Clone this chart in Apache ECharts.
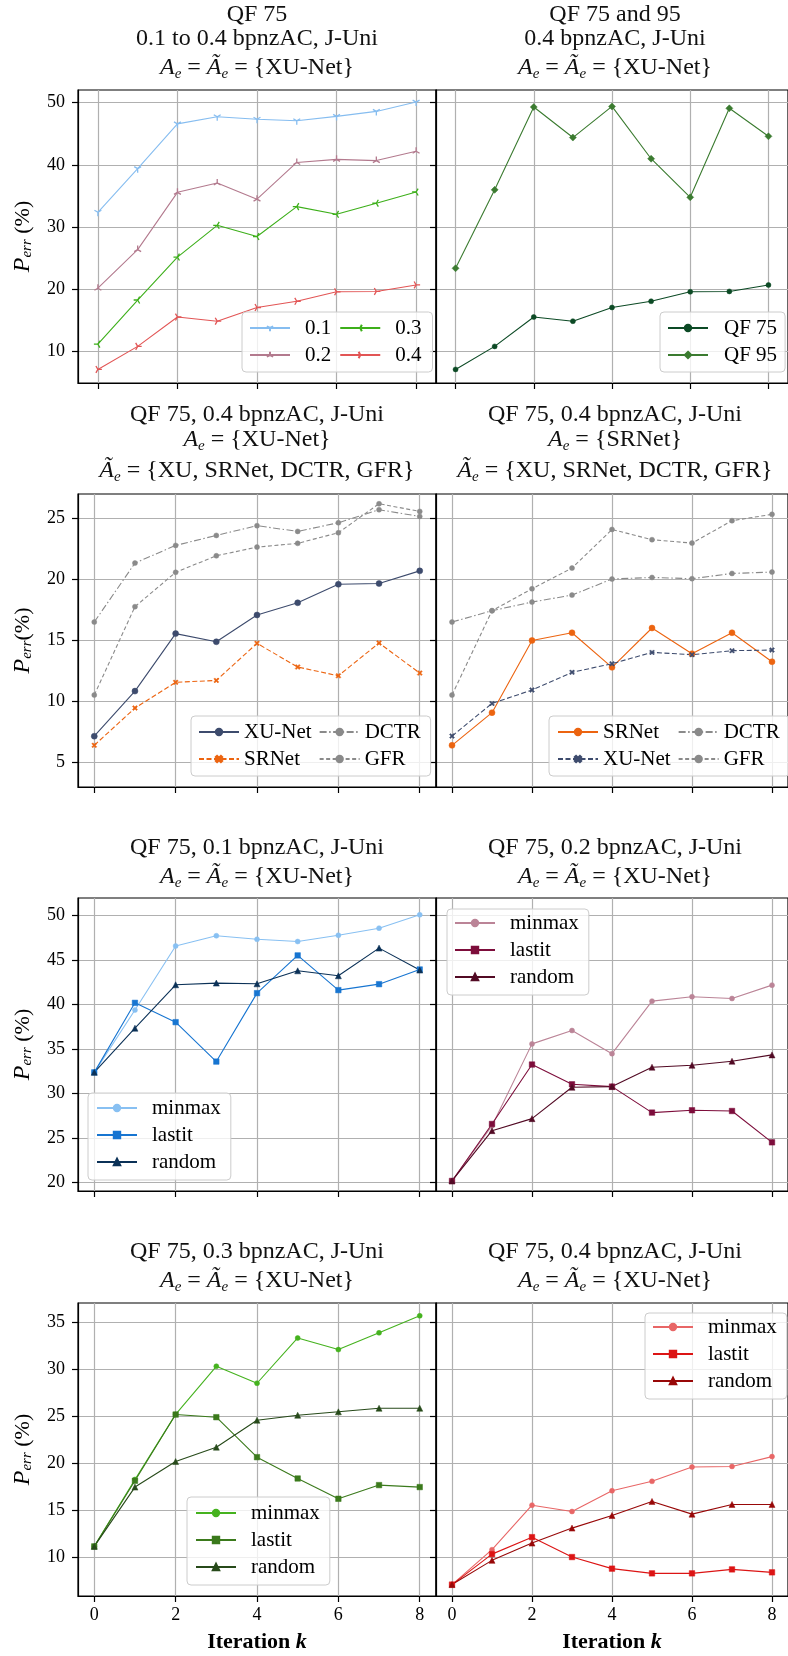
<!DOCTYPE html>
<html><head><meta charset="utf-8">
<script src="https://cdn.jsdelivr.net/npm/echarts@6/dist/echarts.min.js"></script>
<style>html,body{margin:0;padding:0;background:#fff}#c{width:788px;height:1656px}</style>
</head><body><div id="c"></div>
<script>
// ---------------- data ----------------
const ITER = [0, 1, 2, 3, 4, 5, 6, 7, 8];
const X_TICKS = [0, 2, 4, 6, 8];
const Y_TICKS_ROW1 = [10, 20, 30, 40, 50];
const Y_TICKS_ROW2 = [5, 10, 15, 20, 25];
const Y_TICKS_ROW3 = [20, 25, 30, 35, 40, 45, 50];
const Y_TICKS_ROW4 = [10, 15, 20, 25, 30, 35];

// minmax curves for 0.1 ... 0.4 bpnzAC (XU-Net, QF 75)
const BPNZ_01 = [32.4, 39.4, 46.6, 47.75, 47.35, 47.1, 47.8, 48.6, 50.1];
const BPNZ_02 = [20.2, 26.4, 35.6, 37.1, 34.5, 40.4, 40.9, 40.7, 42.2];
const BPNZ_03 = [11.2, 18.3, 25.2, 30.3, 28.5, 33.3, 32.07, 33.85, 35.65];
const BPNZ_04 = [7.15, 10.85, 15.57, 14.9, 17.1, 18.1, 19.62, 19.68, 20.72];
const QF95 = [23.4, 36.0, 49.3, 44.4, 49.4, 41.0, 34.8, 49.1, 44.6];

// A_e = {XU-Net}, several detectors
const SRNET_XU = [6.4, 9.46, 11.57, 11.73, 14.77, 12.83, 12.11, 14.8, 12.33];
const DCTR_XU = [16.52, 21.36, 22.81, 23.63, 24.43, 23.96, 24.67, 25.74, 25.19];
const GFR_XU = [10.53, 17.78, 20.6, 21.96, 22.67, 22.98, 23.85, 26.23, 25.6];
// A_e = {SRNet}
const SRNET_SR = [6.4, 9.08, 15.01, 15.64, 12.8, 16.03, 13.92, 15.64, 13.26];
const XU_SR = [7.16, 9.84, 10.94, 12.39, 13.1, 14.03, 13.84, 14.17, 14.22];
const DCTR_SR = [16.52, 17.45, 18.16, 18.73, 20.05, 20.18, 20.08, 20.51, 20.62];
const GFR_SR = [10.53, 17.45, 19.25, 20.95, 24.12, 23.28, 23.0, 24.84, 25.36];

// lastit / random strategies
const LASTIT_01 = [32.4, 40.21, 38.04, 33.61, 41.3, 45.54, 41.64, 42.31, 43.96];
const RANDOM_01 = [32.4, 37.36, 42.24, 42.43, 42.35, 43.81, 43.25, 46.36, 43.89];
const LASTIT_02 = [20.2, 26.6, 33.28, 31.06, 30.8, 27.88, 28.14, 28.06, 24.54];
const RANDOM_02 = [20.2, 25.85, 27.2, 30.73, 30.8, 32.98, 33.2, 33.65, 34.36];
const LASTIT_03 = [11.2, 18.16, 25.18, 24.9, 20.66, 18.4, 16.25, 17.7, 17.49];
const RANDOM_03 = [11.2, 17.49, 20.2, 21.72, 24.58, 25.11, 25.47, 25.85, 25.85];
const LASTIT_04 = [7.15, 10.38, 12.18, 10.07, 8.84, 8.34, 8.34, 8.76, 8.45];
const RANDOM_04 = [7.15, 9.72, 11.55, 13.14, 14.48, 15.97, 14.62, 15.65, 15.65];

// ---------------- layout / style ----------------
const FONT = "'Liberation Serif', 'DejaVu Serif', serif";
const ROW_TOP = [90, 494, 898, 1303];
const PH = 293;
const COL_LEFT = [78, 436];
const PW = 358;
const X_RANGE = [[-0.5, 8.5], [-0.4, 8.4], [-0.4, 8.4], [-0.4, 8.4]];
const Y_RANGE = [[4.97, 52.04], [2.98, 27.03], [19.07, 51.99], [5.94, 37.01]];
const Y_TICKS = [Y_TICKS_ROW1, Y_TICKS_ROW2, Y_TICKS_ROW3, Y_TICKS_ROW4];

const TRI_DOWN = 'path://M0,-1 M0,0 L0,1 M0,0 L-0.866,-0.5 M0,0 L0.866,-0.5';
const TRI_UP = 'path://M0,1 M0,0 L0,-1 M0,0 L-0.866,0.5 M0,0 L0.866,0.5';
const TRI_LEFT = 'path://M1,0 M0,0 L-1,0 M0,0 L0.5,-0.866 M0,0 L0.5,0.866';
const TRI_RIGHT = 'path://M-1,0 M0,0 L1,0 M0,0 L-0.5,-0.866 M0,0 L-0.5,0.866';
const XMARK = 'path://M-1,-0.6 L-0.6,-1 L0,-0.4 L0.6,-1 L1,-0.6 L0.4,0 L1,0.6 L0.6,1 L0,0.4 L-0.6,1 L-1,0.6 L-0.4,0 Z';

const DASH = [5, 2.5];
const DASH_FINE = [4, 2.5];
const DASHDOT = [7, 2.5, 1.5, 2.5];

const C_GRAY = '#8a8a8a', C_XU = '#3d4b6d', C_SR = '#ec6410';

const SERIES = [
  {p: 0, n: '0.1', d: BPNZ_01, c: '#86bdf0', s: TRI_DOWN, z: 8, line: true},
  {p: 0, n: '0.2', d: BPNZ_02, c: '#b37a8e', s: TRI_UP, z: 8, line: true},
  {p: 0, n: '0.3', d: BPNZ_03, c: '#3daf1a', s: TRI_LEFT, z: 8, line: true},
  {p: 0, n: '0.4', d: BPNZ_04, c: '#e25555', s: TRI_RIGHT, z: 8, line: true},
  {p: 1, n: 'QF 75', d: BPNZ_04, c: '#0c4a25', s: 'circle', z: 5},
  {p: 1, n: 'QF 95', d: QF95, c: '#3b7b30', s: 'diamond', z: 7},
  {p: 2, n: 'XU-Net', d: BPNZ_04, c: C_XU, s: 'circle', z: 6},
  {p: 2, n: 'SRNet', d: SRNET_XU, c: C_SR, s: XMARK, z: 5, t: DASH},
  {p: 2, n: 'DCTR', d: DCTR_XU, c: C_GRAY, s: 'circle', z: 5, t: DASHDOT},
  {p: 2, n: 'GFR', d: GFR_XU, c: C_GRAY, s: 'circle', z: 5, t: DASH_FINE},
  {p: 3, n: 'SRNet', d: SRNET_SR, c: C_SR, s: 'circle', z: 6},
  {p: 3, n: 'XU-Net', d: XU_SR, c: C_XU, s: XMARK, z: 5, t: DASH},
  {p: 3, n: 'DCTR', d: DCTR_SR, c: C_GRAY, s: 'circle', z: 5, t: DASHDOT},
  {p: 3, n: 'GFR', d: GFR_SR, c: C_GRAY, s: 'circle', z: 5, t: DASH_FINE},
  {p: 4, n: 'minmax', d: BPNZ_01, c: '#88c0f2', s: 'circle', z: 5},
  {p: 4, n: 'lastit', d: LASTIT_01, c: '#1775d1', s: 'rect', z: 5.5},
  {p: 4, n: 'random', d: RANDOM_01, c: '#0b3157', s: 'triangle', z: 6},
  {p: 5, n: 'minmax', d: BPNZ_02, c: '#bb8497', s: 'circle', z: 5},
  {p: 5, n: 'lastit', d: LASTIT_02, c: '#7d0d3b', s: 'rect', z: 5.5},
  {p: 5, n: 'random', d: RANDOM_02, c: '#520a24', s: 'triangle', z: 6},
  {p: 6, n: 'minmax', d: BPNZ_03, c: '#45b21e', s: 'circle', z: 5},
  {p: 6, n: 'lastit', d: LASTIT_03, c: '#3b7a1c', s: 'rect', z: 5.5},
  {p: 6, n: 'random', d: RANDOM_03, c: '#274a1a', s: 'triangle', z: 6},
  {p: 7, n: 'minmax', d: BPNZ_04, c: '#e86666', s: 'circle', z: 5},
  {p: 7, n: 'lastit', d: LASTIT_04, c: '#dc1414', s: 'rect', z: 5.5},
  {p: 7, n: 'random', d: RANDOM_04, c: '#980808', s: 'triangle', z: 6}
];

const LEGENDS = [
  {p: 0, items: ['0.1', '0.2', '', '0.3', '0.4'], left: 242, top: 312, pad: [5, 8, 6, 7], tpad: [0, 3, 0, 10]},
  {p: 1, items: ['QF 75', 'QF 95'], left: 660, top: 312, pad: [5, 8, 6, 7], tpad: [0, 0, 0, 11]},
  {p: 2, items: ['XU-Net', 'SRNet', '', 'DCTR', 'GFR'], left: 191, top: 716, pad: [5, 8, 6, 7], tpad: [0, 2, 0, 0]},
  {p: 3, items: ['SRNet', 'XU-Net', '', 'DCTR', 'GFR'], left: 549, top: 716, pad: [5, 8, 6, 8], tpad: [0, 2, 0, 0]},
  {p: 4, items: ['minmax', 'lastit', 'random'], left: 88, top: 1093, pad: [4, 10, 7, 8], tpad: [0, 0, 0, 10]},
  {p: 5, items: ['minmax', 'lastit', 'random'], left: 447, top: 909, pad: [3, 10, 7, 7], tpad: [0, 0, 0, 10]},
  {p: 6, items: ['minmax', 'lastit', 'random'], left: 187, top: 1497, pad: [5, 10, 7, 8], tpad: [0, 0, 0, 10]},
  {p: 7, items: ['minmax', 'lastit', 'random'], left: 645, top: 1313, pad: [3, 10, 7, 7], tpad: [0, 0, 0, 10]}
];

const MATH_AA = '{m|A}{s|e} = {m|Ã}{s|e} = {XU-Net}';
const TITLES = [
  {p: 0, text: 'QF 75\n0.1 to 0.4 bpnzAC, J-Uni\n' + MATH_AA, top: 3},
  {p: 1, text: 'QF 75 and 95\n0.4 bpnzAC, J-Uni\n' + MATH_AA, top: 3},
  {p: 2, text: 'QF 75, 0.4 bpnzAC, J-Uni\n{ma|A}{s|e} = {XU-Net}\n{mb|Ã}{s|e} = {XU, SRNet, DCTR, GFR}', top: 403},
  {p: 3, text: 'QF 75, 0.4 bpnzAC, J-Uni\n{ma|A}{s|e} = {SRNet}\n{mb|Ã}{s|e} = {XU, SRNet, DCTR, GFR}', top: 403},
  {p: 4, text: 'QF 75, 0.1 bpnzAC, J-Uni\n' + MATH_AA, top: 836},
  {p: 5, text: 'QF 75, 0.2 bpnzAC, J-Uni\n' + MATH_AA, top: 836},
  {p: 6, text: 'QF 75, 0.3 bpnzAC, J-Uni\n' + MATH_AA, top: 1240},
  {p: 7, text: 'QF 75, 0.4 bpnzAC, J-Uni\n' + MATH_AA, top: 1240}
];

// ---------------- build ----------------
const grids = [], xAxes = [], yAxes = [], series = [], legends = [], titles = [];
const TICK_STYLE = {color: '#000', width: 1.2};
const GRID_LINE = {color: '#b0b0b0', width: 1.2};

for (let p = 0; p < 8; p++) {
  const row = Math.floor(p / 2), col = p % 2;
  grids.push({left: COL_LEFT[col], top: ROW_TOP[row], width: PW, height: PH, show: true,
    borderColor: '#000', borderWidth: 1.2, backgroundColor: 'transparent'});
  xAxes.push({
    gridIndex: p, type: 'value', min: X_RANGE[row][0], max: X_RANGE[row][1],
    axisLine: {show: true, onZero: false, lineStyle: TICK_STYLE},
    axisTick: {show: true, customValues: X_TICKS, length: 6, lineStyle: TICK_STYLE},
    axisLabel: {show: row === 3, customValues: X_TICKS, fontFamily: FONT, fontSize: 18, color: '#000', margin: 10},
    splitLine: {show: true, lineStyle: GRID_LINE},
    name: row === 3 ? '{b|Iteration} {k|k}' : '', nameLocation: 'middle', nameGap: 35,
    nameTextStyle: {fontFamily: FONT, fontSize: 22, color: '#000', rich: {
      b: {fontFamily: FONT, fontSize: 22, fontWeight: 'bold', color: '#000'},
      k: {fontFamily: FONT, fontSize: 22, fontWeight: 'bold', fontStyle: 'italic', color: '#000'}}}
  });
  const yName = col === 0 ? (row === 1 ? '{i|P}{s|err}{n|(%)}' : '{i|P}{s|err}{n| (%)}') : '';
  yAxes.push({
    gridIndex: p, type: 'value', min: Y_RANGE[row][0], max: Y_RANGE[row][1],
    axisLine: {show: true, onZero: false, lineStyle: TICK_STYLE},
    axisTick: {show: true, customValues: Y_TICKS[row], length: 6, lineStyle: TICK_STYLE},
    axisLabel: {show: col === 0, customValues: Y_TICKS[row], fontFamily: FONT, fontSize: 18, color: '#000', margin: 13},
    splitLine: {show: true, lineStyle: GRID_LINE},
    name: yName, nameLocation: 'middle', nameGap: 42, nameRotate: 90,
    nameTextStyle: {fontFamily: FONT, fontSize: 22, color: '#000', rich: {
      i: {fontFamily: FONT, fontStyle: 'italic', fontSize: 24, lineHeight: 26, color: '#000'},
      s: {fontFamily: FONT, fontStyle: 'italic', fontSize: 15, lineHeight: 15, verticalAlign: 'bottom', padding: [0, 0, 1, 0], color: '#000'},
      n: {fontFamily: FONT, fontSize: 22, lineHeight: 26, color: '#000'}}}
  });
}

SERIES.forEach(sp => {
  const isTri = !!sp.line;
  series.push({
    type: 'line', name: sp.n + '#' + sp.p, xAxisIndex: sp.p, yAxisIndex: sp.p,
    data: ITER.map((k, i) => [k, sp.d[i]]),
    symbol: sp.s, symbolSize: sp.z, symbolKeepAspect: true, showSymbol: true,
    lineStyle: {color: sp.c, width: 1.1, type: sp.t || 'solid'},
    itemStyle: isTri ? {color: sp.c, borderColor: sp.c, borderWidth: 1.3} : {color: sp.c, borderColor: sp.c, borderWidth: 0.5},
    emphasis: {disabled: true}, animation: false, clip: false
  });
});

LEGENDS.forEach(lg => {
  legends.push({
    show: true, orient: 'vertical', left: lg.left, top: lg.top, padding: lg.pad,
    itemGap: 5, itemWidth: 40, itemHeight: 8, selectedMode: false,
    data: lg.items.map(n => n === '' ? '' : n + '#' + lg.p),
    formatter: name => name.split('#')[0],
    textStyle: {fontFamily: FONT, fontSize: 21, color: '#000', lineHeight: 22, padding: lg.tpad},
    backgroundColor: 'rgba(255,255,255,0.8)', borderColor: '#cccccc', borderWidth: 1, borderRadius: 4
  });
});

const SUB = {fontFamily: FONT, fontStyle: 'italic', fontSize: 15, lineHeight: 14, verticalAlign: 'middle', padding: [12, 0, 0, 0], color: '#111'};
TITLES.forEach(t => {
  const col = t.p % 2;
  titles.push({
    text: t.text, left: COL_LEFT[col] + PW / 2, top: t.top, textAlign: 'center', textVerticalAlign: 'top', padding: 0,
    textStyle: {fontFamily: FONT, fontSize: 24, fontWeight: 'normal', color: '#111', lineHeight: 24, rich: {
      m: {fontFamily: FONT, fontStyle: 'italic', fontSize: 24, lineHeight: 34, color: '#111'},
      ma: {fontFamily: FONT, fontStyle: 'italic', fontSize: 24, lineHeight: 26, color: '#111'},
      mb: {fontFamily: FONT, fontStyle: 'italic', fontSize: 24, lineHeight: 36, color: '#111'},
      s: SUB}}
  });
});

const chart = echarts.init(document.getElementById('c'), null, {renderer: 'canvas', width: 788, height: 1656});
chart.setOption({
  backgroundColor: '#fff', animation: false,
  title: titles, grid: grids, xAxis: xAxes, yAxis: yAxes, series: series, legend: legends
});
</script>
</body></html>
